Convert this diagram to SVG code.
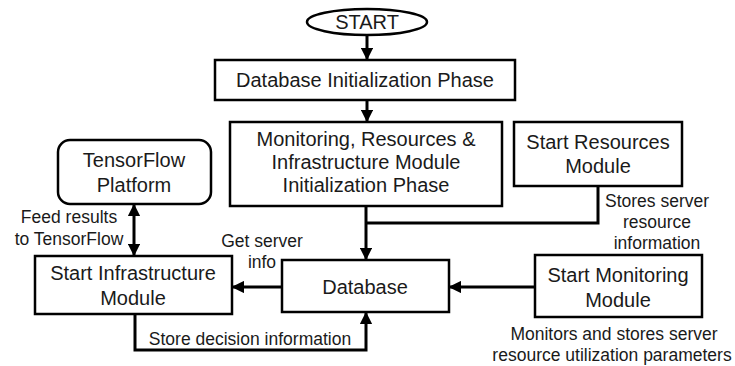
<svg xmlns="http://www.w3.org/2000/svg" width="735" height="366" viewBox="0 0 735 366">
  <style>
    .box { fill: #fff; stroke: #000; stroke-width: 2.5; }
    .t { font-family: "Liberation Sans", Arial, sans-serif; font-size: 20px; fill: #1a1a1a; text-anchor: middle; }
    .lbl { font-family: "Liberation Sans", Arial, sans-serif; font-size: 17.5px; fill: #1a1a1a; text-anchor: middle; }
    .wire { fill: none; stroke: #000; stroke-width: 3; }
  </style>
  <defs>
    <marker id="arrow" viewBox="0 0 10 10" refX="9" refY="5" markerWidth="4.2" markerHeight="4.2" orient="auto-start-reverse" markerUnits="strokeWidth">
      <path d="M0,0 L10,5 L0,10 Z" fill="#000"/>
    </marker>
  </defs>

  <g id="connectors">
    <path class="wire" d="M367,35 V59" marker-end="url(#arrow)"/>
    <path class="wire" d="M367,100 V121" marker-end="url(#arrow)"/>
    <path class="wire" d="M366,206 V259" marker-end="url(#arrow)"/>
    <path class="wire" d="M598,186 V223 H366"/>
    <path class="wire" d="M134,205 V255" marker-start="url(#arrow)" marker-end="url(#arrow)"/>
    <path class="wire" d="M282,287 H233" marker-end="url(#arrow)"/>
    <path class="wire" d="M535,287 H450" marker-end="url(#arrow)"/>
    <path class="wire" d="M135,314 V350 H366 V313" marker-end="url(#arrow)"/>
  </g>

  <g id="start">
    <ellipse class="box" cx="367" cy="22" rx="60" ry="13"/>
    <text class="t" x="367" y="29">START</text>
  </g>

  <g id="db-init">
    <rect class="box" x="215" y="60" width="300" height="40"/>
    <text class="t" x="365" y="87">Database Initialization Phase</text>
  </g>

  <g id="module-init">
    <rect class="box" x="230" y="122" width="272" height="84"/>
    <text class="t" x="366" y="146">Monitoring, Resources &amp;</text>
    <text class="t" x="366" y="169">Infrastructure Module</text>
    <text class="t" x="366" y="192">Initialization Phase</text>
  </g>

  <g id="tensorflow">
    <rect class="box" x="58" y="140" width="153" height="64" rx="12"/>
    <text class="t" x="134" y="167">TensorFlow</text>
    <text class="t" x="134" y="192">Platform</text>
  </g>

  <g id="resources">
    <rect class="box" x="514" y="122" width="168" height="64"/>
    <text class="t" x="598" y="149">Start Resources</text>
    <text class="t" x="598" y="173">Module</text>
  </g>

  <g id="infrastructure">
    <rect class="box" x="35" y="256" width="197" height="58"/>
    <text class="t" x="133" y="280">Start Infrastructure</text>
    <text class="t" x="133" y="305">Module</text>
  </g>

  <g id="database">
    <rect class="box" x="282" y="260" width="167" height="52"/>
    <text class="t" x="365" y="294">Database</text>
  </g>

  <g id="monitoring">
    <rect class="box" x="535" y="255" width="167" height="62"/>
    <text class="t" x="618" y="282">Start Monitoring</text>
    <text class="t" x="618" y="307">Module</text>
  </g>

  <g id="labels">
    <text class="lbl" x="69" y="223">Feed results</text>
    <text class="lbl" x="69" y="245">to TensorFlow</text>
    <text class="lbl" x="262" y="247">Get server</text>
    <text class="lbl" x="262" y="268">info</text>
    <text class="lbl" x="657" y="207">Stores server</text>
    <text class="lbl" x="657" y="228">resource</text>
    <text class="lbl" x="657" y="249">information</text>
    <text class="lbl" x="614" y="340">Monitors and stores server</text>
    <text class="lbl" x="612" y="361">resource utilization parameters</text>
    <text class="lbl" x="250" y="345">Store decision information</text>
  </g>
</svg>
